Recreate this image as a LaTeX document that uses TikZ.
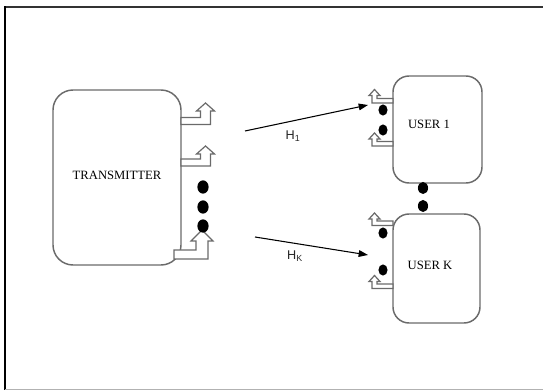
\documentclass[tikz,border=0pt]{standalone}
\usepackage{fontspec}
\setmainfont{Liberation Serif}
\newfontfamily\labelsans{Liberation Sans}
\usetikzlibrary{arrows.meta}
\definecolor{boxgray}{HTML}{6A6A6A}
\tikzset{
  blockbox/.style={draw=boxgray, line width=1.1pt, fill=white},
  arrowbox/.style={draw=boxgray, line width=0.9pt, fill=white, line join=miter},
  dotmark/.style={fill=black},
  chan/.style={draw=black, line width=0.8pt, -{Triangle[length=7pt,width=5pt]}},
  boxtext/.style={font=\fontsize{9.5}{12}\selectfont, inner sep=0pt},
  chantext/.style={font=\labelsans\fontsize{9.5}{11}\selectfont, inner sep=0pt, text=black!85}
}
\newcommand\BentUp[8]{%
  \draw[arrowbox] (#1,#2) -- ({#1+(#3)},#2) -- ({#1+(#3)},{#2-(#4)+(#8)})
    -- ({#1+(#3)+(#7)},{#2-(#4)+(#8)}) -- ({#1+(#3)-(#6)/2},{#2-(#4)})
    -- ({#1+(#3)-(#6)-(#7)},{#2-(#4)+(#8)}) -- ({#1+(#3)-(#6)},{#2-(#4)+(#8)})
    -- ({#1+(#3)-(#6)},{#2-(#5)}) -- (#1,{#2-(#5)}) -- cycle;}
\begin{document}
\begin{tikzpicture}[x=0.75pt,y=-0.75pt]
\useasboundingbox (0,0) rectangle (543,391);
% frame
\draw[black!80, line width=1.5pt] (4,7) -- (543,7);
\draw[black, line width=1.6pt] (5,6.5) -- (5,390);
\draw[black!30, line width=1pt] (5,389.5) -- (543,389.5);
% boxes
\draw[blockbox, rounded corners=15pt] (53,90) rectangle (181,265);
\draw[blockbox, rounded corners=12pt] (393,76) rectangle (482,183);
\draw[blockbox, rounded corners=12pt] (393,214) rectangle (480,323);
\node[boxtext] (tx) at (117,175) {TRANSMITTER};
\node[boxtext] (u1) at (429,124) {USER 1};
\node[boxtext] (uk) at (430,265) {USER K};
% transmitter outputs
\BentUp{181}{124.5}{29.5}{21.5}{7}{10}{4}{8}
\BentUp{181}{166}{29.5}{20}{7}{10}{4}{8}
\BentUp{174}{259}{34}{29}{9}{12}{5}{11}
% user inputs
\BentUp{393}{103}{-21}{13.5}{4.5}{-5}{-3}{6}
\BentUp{393}{146}{-21}{13}{4.5}{-5}{-3}{6}
\BentUp{393}{225.5}{-21}{12.5}{4.5}{-5}{-3}{6}
\BentUp{393}{288.5}{-21}{13}{4.5}{-5}{-3}{6}
% dots
\foreach \yy in {187,207,226} \fill[dotmark] (203,\yy) ellipse [x radius=4.2pt, y radius=5pt];
\foreach \yy in {110,130,233,270} \fill[dotmark] (383,\yy) ellipse [x radius=3.4pt, y radius=4.2pt];
\foreach \yy in {188,206} \fill[dotmark] (423,\yy) ellipse [x radius=3.8pt, y radius=4.5pt];
% channels
\coordinate (h1s) at (245,131);
\coordinate (h1e) at (368,105);
\coordinate (hks) at (255,237);
\coordinate (hke) at (368,255);
\draw[chan] (h1s) -- (h1e);
\draw[chan] (hks) -- (hke);
\node[chantext] (h1) at (293,136) {H\textsubscript{1}};
\node[chantext] (hk) at (295,256) {H\textsubscript{K}};
\end{tikzpicture}
\end{document}
